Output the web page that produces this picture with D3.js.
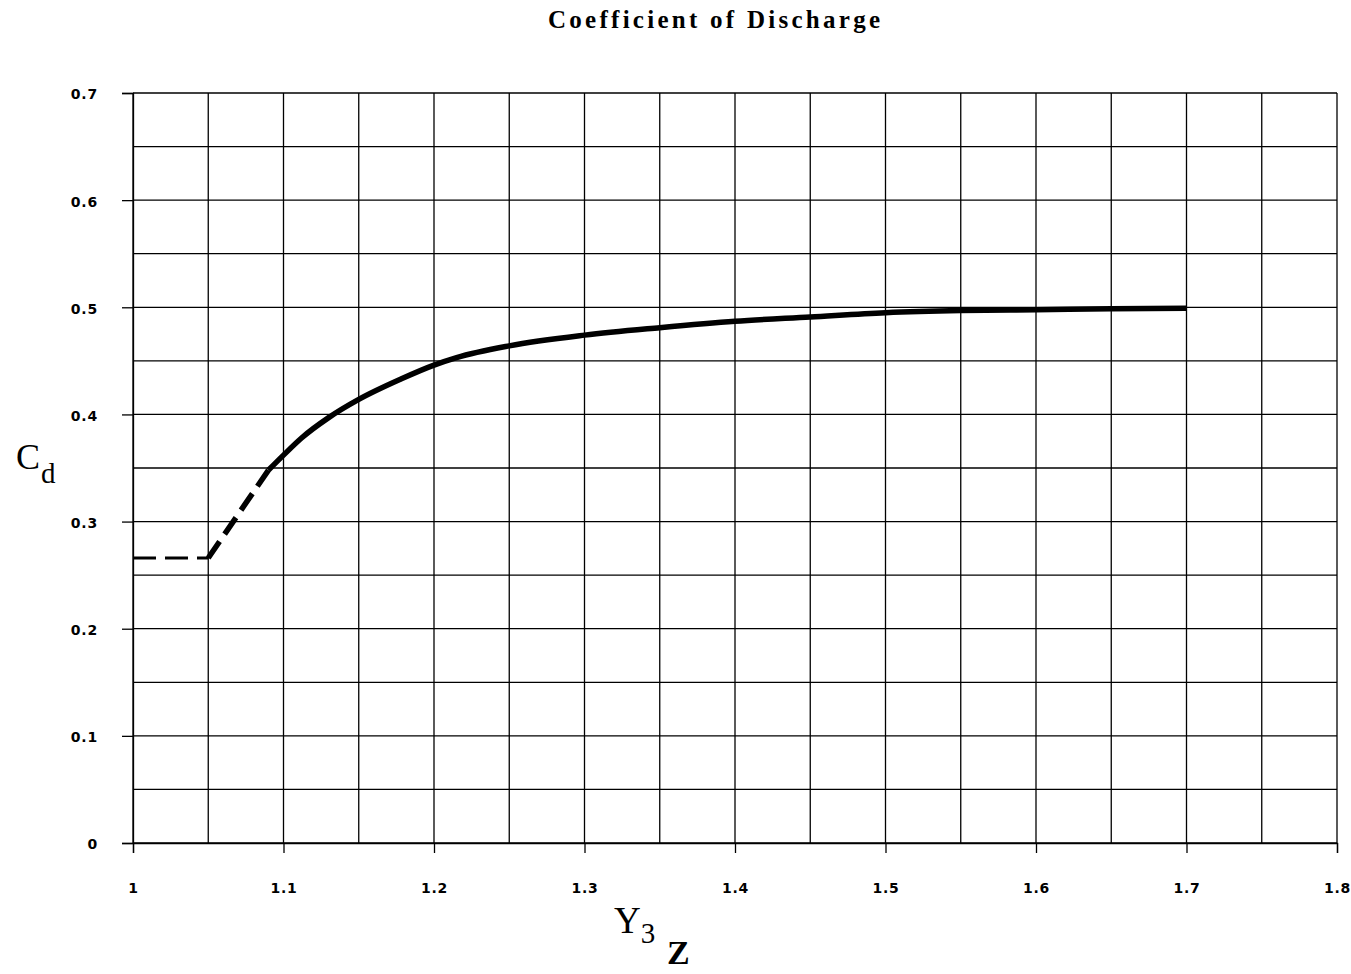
<!DOCTYPE html>
<html>
<head>
<meta charset="utf-8">
<script src="https://cdn.jsdelivr.net/npm/d3@7"></script>
<style>
  html, body { margin: 0; padding: 0; background: #fff; }
  svg { display: block; }
</style>
</head>
<body>
<svg id="chart" width="1351" height="974"></svg>
<script>
// ---- data ----
const xTickValues = [1, 1.1, 1.2, 1.3, 1.4, 1.5, 1.6, 1.7, 1.8];
const yTickValues = [0, 0.1, 0.2, 0.3, 0.4, 0.5, 0.6, 0.7];
const xGridValues = [1, 1.05, 1.1, 1.15, 1.2, 1.25, 1.3, 1.35, 1.4, 1.45, 1.5, 1.55, 1.6, 1.65, 1.7, 1.75, 1.8];
const yGridValues = [0, 0.05, 0.1, 0.15, 0.2, 0.25, 0.3, 0.35, 0.4, 0.45, 0.5, 0.55, 0.6, 0.65, 0.7];

const flatX = [1.0, 1.05];
const flatY = [0.266, 0.266];
const riseX = [1.05, 1.09];
const riseY = [0.266, 0.348];
const curveX = [1.09, 1.1, 1.112, 1.13, 1.15, 1.178, 1.2, 1.215, 1.25, 1.3, 1.35, 1.4, 1.45, 1.5, 1.55, 1.6, 1.65, 1.7];
const curveY = [0.348, 0.362, 0.378, 0.397, 0.414, 0.433, 0.446, 0.453, 0.464, 0.474, 0.481, 0.487, 0.491, 0.495, 0.497, 0.4977, 0.4987, 0.499];

const titleText = "Coefficient of Discharge";

// ---- layout ----
const W = 1351, H = 974;
const m = { left: 133, right: 14, top: 93, bottom: 131 };
const svg = d3.select("#chart");
const x = d3.scaleLinear().domain([1, 1.8]).range([m.left, W - m.right]);
const y = d3.scaleLinear().domain([0, 0.7]).range([H - m.bottom, m.top]);

// grid
const grid = svg.append("g").attr("stroke", "#000").attr("stroke-width", 1.3);
grid.selectAll("line.v").data(xGridValues).join("line")
  .attr("x1", d => x(d)).attr("x2", d => x(d))
  .attr("y1", y(0)).attr("y2", y(0.7));
grid.selectAll("line.h").data(yGridValues).join("line")
  .attr("y1", d => y(d)).attr("y2", d => y(d))
  .attr("x1", x(1)).attr("x2", x(1.8));

// axes
const labelFont = "'DejaVu Sans', sans-serif";
const yAxis = svg.append("g").attr("transform", `translate(${m.left},0)`)
  .call(d3.axisLeft(y).tickValues(yTickValues).tickSize(11).tickPadding(24)
        .tickFormat(d3.format("")));
const xAxis = svg.append("g").attr("transform", `translate(0,${H - m.bottom})`)
  .call(d3.axisBottom(x).tickValues(xTickValues).tickSize(10).tickPadding(30)
        .tickFormat(d3.format("")));
[yAxis, xAxis].forEach(a => {
  a.select(".domain").attr("stroke", "#000").attr("stroke-width", 1.3);
  a.selectAll(".tick line").attr("stroke", "#000").attr("stroke-width", 1.3);
  a.selectAll(".tick text")
    .attr("fill", "#000")
    .style("font-family", labelFont)
    .style("font-weight", "bold")
    .style("font-size", "14px")
    .style("letter-spacing", "0.8px");
});
yAxis.selectAll(".tick text").attr("dy", "0.42em");

// lines
const line = d3.line().x(d => x(d[0])).y(d => y(d[1]));
svg.append("path")
  .datum(d3.zip(flatX, flatY))
  .attr("d", line)
  .attr("fill", "none").attr("stroke", "#000")
  .attr("stroke-width", 3).attr("stroke-dasharray", "23,9");
svg.append("path")
  .datum(d3.zip(riseX, riseY))
  .attr("d", line)
  .attr("fill", "none").attr("stroke", "#000")
  .attr("stroke-width", 5.5).attr("stroke-dasharray", "20,9");
svg.append("path")
  .datum(d3.zip(curveX, curveY))
  .attr("d", line.curve(d3.curveMonotoneX))
  .attr("fill", "none").attr("stroke", "#000")
  .attr("stroke-width", 5.5).attr("stroke-linejoin", "round");

// title
svg.append("text")
  .attr("x", 714).attr("y", 28)
  .attr("text-anchor", "middle")
  .attr("textLength", 332).attr("lengthAdjust", "spacing")
  .style("font-family", "'Liberation Serif', 'Times New Roman', serif")
  .style("font-weight", "bold")
  .style("font-size", "25px")
  .text(titleText);

// y label C_d
const serif = "'Liberation Serif', 'Times New Roman', serif";
const yl = svg.append("text").attr("x", 16).attr("y", 469)
  .style("font-family", serif).style("font-size", "36px");
yl.append("tspan").text("C");
yl.append("tspan").attr("dy", 14).attr("dx", 1).style("font-size", "29px").text("d");

// x label Y3 / Z
const xl = svg.append("text").attr("x", 614).attr("y", 933)
  .style("font-family", serif).style("font-size", "37px");
xl.append("tspan").text("Y");
xl.append("tspan").attr("dy", 10).style("font-size", "29px").text("3");
svg.append("text").attr("x", 667).attr("y", 964)
  .style("font-family", serif).style("font-size", "34px").style("font-weight", "bold")
  .text("Z");
</script>
</body>
</html>
